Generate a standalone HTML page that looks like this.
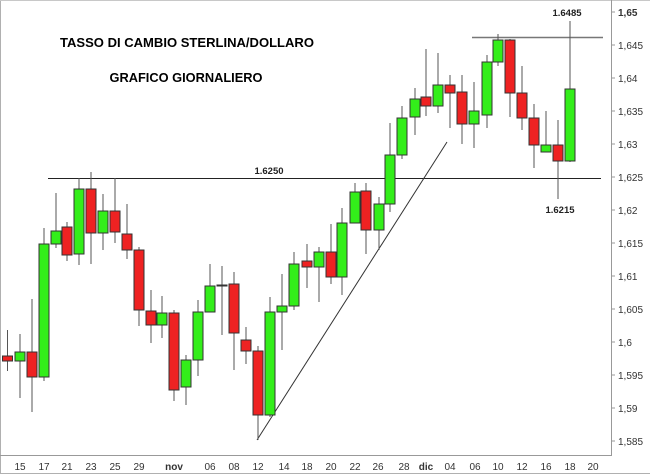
<!DOCTYPE html>
<html><head><meta charset="utf-8"><style>
html,body{margin:0;padding:0;background:#fff;}
svg{display:block;font-family:"Liberation Sans",Arial,sans-serif;}
</style></head><body>
<svg width="650" height="474" viewBox="0 0 650 474" xmlns="http://www.w3.org/2000/svg">
<rect x="0" y="0" width="650" height="474" fill="#fff"/>
<line x1="0.5" y1="0" x2="0.5" y2="474" stroke="#b0b0b0"/>
<line x1="0" y1="0.5" x2="650" y2="0.5" stroke="#c8c8c8"/>
<line x1="0" y1="473.5" x2="650" y2="473.5" stroke="#b0b0b0"/>
<line x1="611.5" y1="0" x2="611.5" y2="456" stroke="#999"/>
<line x1="0" y1="455.5" x2="611" y2="455.5" stroke="#999"/>
<g font-size="10" fill="#333">
<g stroke="#999">
<line x1="611" y1="12" x2="615" y2="12"/><line x1="611" y1="45" x2="615" y2="45"/><line x1="611" y1="78" x2="615" y2="78"/><line x1="611" y1="111" x2="615" y2="111"/><line x1="611" y1="144" x2="615" y2="144"/><line x1="611" y1="177" x2="615" y2="177"/><line x1="611" y1="210" x2="615" y2="210"/><line x1="611" y1="243" x2="615" y2="243"/><line x1="611" y1="276" x2="615" y2="276"/><line x1="611" y1="309" x2="615" y2="309"/><line x1="611" y1="342" x2="615" y2="342"/><line x1="611" y1="375" x2="615" y2="375"/><line x1="611" y1="408" x2="615" y2="408"/><line x1="611" y1="441" x2="615" y2="441"/>
</g>
<text x="618" y="16" font-weight="bold">1,65</text>
<text x="618" y="49">1,645</text><text x="618" y="82">1,64</text><text x="618" y="115">1,635</text><text x="618" y="148">1,63</text><text x="618" y="181">1,625</text><text x="618" y="214">1,62</text><text x="618" y="247">1,615</text><text x="618" y="280">1,61</text><text x="618" y="313">1,605</text><text x="618" y="346">1,6</text><text x="618" y="379">1,595</text><text x="618" y="412">1,59</text><text x="618" y="445">1,585</text>
</g>
<g font-size="10" fill="#333" text-anchor="middle">
<text x="20" y="470">15</text><text x="44" y="470">17</text><text x="67" y="470">21</text><text x="91" y="470">23</text><text x="115" y="470">25</text><text x="139" y="470">29</text><text x="174" y="470" font-weight="bold">nov</text><text x="210" y="470">06</text><text x="234" y="470">08</text><text x="258" y="470">12</text><text x="284" y="470">14</text><text x="307" y="470">18</text><text x="331" y="470">20</text><text x="355" y="470">22</text><text x="378" y="470">26</text><text x="404" y="470">28</text><text x="426" y="470" font-weight="bold">dic</text><text x="450" y="470">04</text><text x="475" y="470">06</text><text x="498" y="470">10</text><text x="522" y="470">12</text><text x="546" y="470">16</text><text x="570" y="470">18</text><text x="593" y="470">20</text>
</g>
<line x1="48" y1="178.5" x2="601" y2="178.5" stroke="#222"/>
<line x1="472" y1="37.5" x2="603" y2="37.5" stroke="#777" stroke-width="1.5"/>
<line x1="257" y1="440" x2="447" y2="142" stroke="#333"/>
<g font-size="9.5" font-weight="bold" fill="#222" text-anchor="middle">
<text x="269" y="174">1.6250</text><text x="567" y="16">1.6485</text><text x="560" y="213">1.6215</text>
</g>
<text x="187" y="47" font-size="13" font-weight="bold" text-anchor="middle" textLength="254" lengthAdjust="spacingAndGlyphs">TASSO DI CAMBIO STERLINA/DOLLARO</text>
<text x="186" y="82" font-size="13" font-weight="bold" text-anchor="middle" textLength="153" lengthAdjust="spacingAndGlyphs">GRAFICO GIORNALIERO</text>
<g stroke="#555">
<line x1="7.5" y1="330" x2="7.5" y2="371"/><line x1="20" y1="334" x2="20" y2="398"/><line x1="32" y1="299" x2="32" y2="412"/><line x1="44" y1="228" x2="44" y2="381"/><line x1="56" y1="193" x2="56" y2="248"/><line x1="67" y1="222" x2="67" y2="261"/><line x1="79" y1="178" x2="79" y2="265"/><line x1="91" y1="172" x2="91" y2="264"/><line x1="103" y1="194" x2="103" y2="250"/><line x1="115" y1="178" x2="115" y2="243"/><line x1="127" y1="204" x2="127" y2="259"/><line x1="139" y1="247" x2="139" y2="326"/><line x1="151" y1="290" x2="151" y2="343"/><line x1="162" y1="296" x2="162" y2="338"/><line x1="174" y1="310" x2="174" y2="401"/><line x1="186" y1="355" x2="186" y2="405"/><line x1="198" y1="300" x2="198" y2="376"/><line x1="210" y1="264" x2="210" y2="312"/><line x1="222" y1="266" x2="222" y2="335"/><line x1="234" y1="272" x2="234" y2="370"/><line x1="246" y1="327" x2="246" y2="364"/><line x1="258" y1="346" x2="258" y2="440"/><line x1="270" y1="297" x2="270" y2="417"/><line x1="282" y1="274" x2="282" y2="350"/><line x1="294" y1="252" x2="294" y2="310"/><line x1="307" y1="244" x2="307" y2="288"/><line x1="319" y1="247" x2="319" y2="302"/><line x1="331" y1="224" x2="331" y2="284"/><line x1="342" y1="208" x2="342" y2="295"/><line x1="355" y1="183" x2="355" y2="223"/><line x1="366" y1="183" x2="366" y2="254"/><line x1="379" y1="197" x2="379" y2="250"/><line x1="390" y1="123" x2="390" y2="212"/><line x1="402" y1="106" x2="402" y2="159"/><line x1="415" y1="88" x2="415" y2="135"/><line x1="426" y1="49" x2="426" y2="116"/><line x1="438" y1="53" x2="438" y2="113"/><line x1="450" y1="75" x2="450" y2="128"/><line x1="462" y1="75" x2="462" y2="144"/><line x1="474" y1="82" x2="474" y2="148"/><line x1="487" y1="55" x2="487" y2="128"/><line x1="498" y1="34" x2="498" y2="66"/><line x1="510" y1="39" x2="510" y2="117"/><line x1="522" y1="66" x2="522" y2="130"/><line x1="534" y1="104" x2="534" y2="168"/><line x1="546" y1="111" x2="546" y2="152"/><line x1="558" y1="120" x2="558" y2="199"/><line x1="570" y1="21" x2="570" y2="162"/>
</g>
<g stroke="#333">
<rect x="2.5" y="356" width="10" height="5" fill="#ee2222"/>
<rect x="15" y="352" width="10" height="9" fill="#33ee1a"/>
<rect x="27" y="352" width="10" height="25" fill="#ee2222"/>
<rect x="39" y="244" width="10" height="133" fill="#33ee1a"/>
<rect x="51" y="231" width="10" height="13" fill="#33ee1a"/>
<rect x="62" y="227" width="10" height="28" fill="#ee2222"/>
<rect x="74" y="189" width="10" height="65" fill="#33ee1a"/>
<rect x="86" y="189" width="10" height="44" fill="#ee2222"/>
<rect x="98" y="211" width="10" height="22" fill="#33ee1a"/>
<rect x="110" y="211" width="10" height="21" fill="#ee2222"/>
<rect x="122" y="234" width="10" height="16" fill="#ee2222"/>
<rect x="134" y="250" width="10" height="60" fill="#ee2222"/>
<rect x="146" y="311" width="10" height="14" fill="#ee2222"/>
<rect x="157" y="313" width="10" height="12" fill="#33ee1a"/>
<rect x="169" y="313" width="10" height="77" fill="#ee2222"/>
<rect x="181" y="360" width="10" height="27" fill="#33ee1a"/>
<rect x="193" y="312" width="10" height="48" fill="#33ee1a"/>
<rect x="205" y="286" width="10" height="26" fill="#33ee1a"/>
<rect x="217" y="285" width="10" height="1" fill="#33ee1a"/>
<rect x="229" y="284" width="10" height="49" fill="#ee2222"/>
<rect x="241" y="340" width="10" height="11" fill="#ee2222"/>
<rect x="253" y="351" width="10" height="64" fill="#ee2222"/>
<rect x="265" y="312" width="10" height="103" fill="#33ee1a"/>
<rect x="277" y="306" width="10" height="6" fill="#33ee1a"/>
<rect x="289" y="264" width="10" height="42" fill="#33ee1a"/>
<rect x="302" y="261" width="10" height="6" fill="#ee2222"/>
<rect x="314" y="252" width="10" height="15" fill="#33ee1a"/>
<rect x="326" y="252" width="10" height="25" fill="#ee2222"/>
<rect x="337" y="223" width="10" height="54" fill="#33ee1a"/>
<rect x="350" y="192" width="10" height="31" fill="#33ee1a"/>
<rect x="361" y="191" width="10" height="39" fill="#ee2222"/>
<rect x="374" y="204" width="10" height="26" fill="#33ee1a"/>
<rect x="385" y="155" width="10" height="49" fill="#33ee1a"/>
<rect x="397" y="118" width="10" height="37" fill="#33ee1a"/>
<rect x="410" y="99" width="10" height="18" fill="#33ee1a"/>
<rect x="421" y="97" width="10" height="9" fill="#ee2222"/>
<rect x="433" y="85" width="10" height="21" fill="#33ee1a"/>
<rect x="445" y="85" width="10" height="8" fill="#ee2222"/>
<rect x="457" y="92" width="10" height="32" fill="#ee2222"/>
<rect x="469" y="111" width="10" height="13" fill="#33ee1a"/>
<rect x="482" y="62" width="10" height="53" fill="#33ee1a"/>
<rect x="493" y="40" width="10" height="22" fill="#33ee1a"/>
<rect x="505" y="40" width="10" height="53" fill="#ee2222"/>
<rect x="517" y="93" width="10" height="25" fill="#ee2222"/>
<rect x="529" y="118" width="10" height="27" fill="#ee2222"/>
<rect x="541" y="145" width="10" height="7" fill="#33ee1a"/>
<rect x="553" y="145" width="10" height="16" fill="#ee2222"/>
<rect x="565" y="89" width="10" height="72" fill="#33ee1a"/>
</g>
</svg>
</body></html>
